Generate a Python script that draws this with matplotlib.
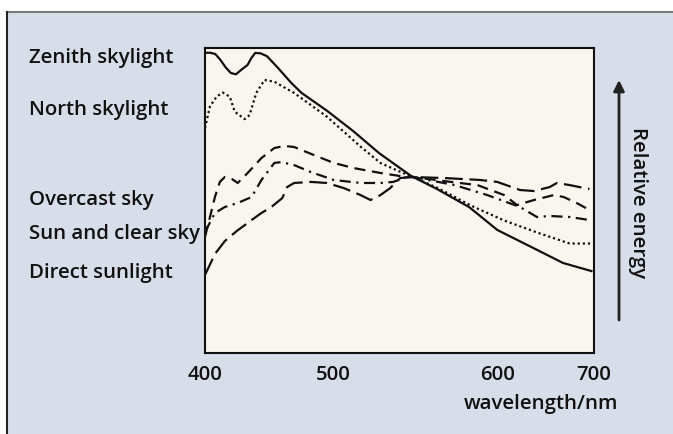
import matplotlib.pyplot as plt
from matplotlib.lines import Line2D
from matplotlib.patches import Rectangle

# spectra of daylight phases, normalised so all curves meet near 560 nm
zenith_wl = [400, 404, 408, 412, 416, 420, 424, 428, 433, 436, 439, 443, 448, 456, 467, 475,
             495, 515, 535, 560, 580, 605, 627, 658, 678, 700]
zenith_val = [170.8, 170.8, 170.1, 166.7, 162.5, 159.3, 158.5, 161.0, 163.8, 167.8, 170.7, 170.5,
              168.9, 162.7, 153.6, 147.9, 137.6, 126.2, 113.7, 100.6, 93.2, 82.9, 69.8, 58.4, 51.0, 46.4]

north_wl = [400, 403.8, 409, 413.8, 419.2, 423.1, 430.8, 434.6, 439.8, 446.2, 453.8, 469.2,
            494.6, 520.8, 536.2, 551.5, 561.5, 580.8, 606.2, 632.3, 657.7, 683.1, 699.2]
north_val = [127.9, 140.1, 145.8, 148.1, 145.8, 137.2, 133.0, 135.3, 147.9, 155.3, 154.3, 147.9,
             134.4, 117.3, 108.0, 103.0, 100.0, 93.7, 83.8, 75.2, 68.4, 62.1, 62.1]

overcast_wl = [400, 407.7, 411.5, 415.4, 420.8, 425.4, 433.1, 443.8, 453.8, 461.5, 469.2, 484.6,
               500, 515.4, 536.2, 556.2, 561.5, 590.8, 611.5, 632.3, 642.3, 655.4, 670.8, 678.5,
               688.5, 698.5]
overcast_val = [65.8, 88.6, 97.2, 100, 98.9, 96.6, 102.3, 110.8, 116.5, 117.7, 117.1, 112.5,
                108.0, 105.1, 102.3, 100, 100, 97.2, 95.4, 89.7, 84.0, 86.9, 89.7, 88.6, 85.2, 81.2]

clear_wl = [400, 407.7, 415.4, 425.4, 436.2, 443.8, 453.8, 459.2, 469.2, 482.3, 500, 520.8,
            536.2, 546.2, 556.2, 561.5, 593.8, 619.2, 644.6, 657.7, 667.7, 683.1, 698.5]
clear_val = [68.7, 79.5, 82.9, 85.2, 88.6, 98.3, 108.0, 108.5, 106.8, 102.8, 98.3, 96.6,
             96.6, 97.2, 100, 100, 95.4, 89.7, 82.9, 77.2, 77.8, 77.2, 75.5]

direct_wl = [400, 407.7, 415.4, 424.6, 436.2, 443.8, 451.5, 460, 463.8, 469.2, 482.3, 494.6,
             507.7, 520.8, 528.5, 536.2, 543.8, 551.5, 561.5, 586.2, 613.8, 626.9, 644.6, 655.4,
             667.7, 673.1, 683.1, 694.6, 698.5]
direct_val = [44.2, 56.1, 63.5, 69.2, 75.5, 79.5, 82.9, 88.0, 94.3, 96.6, 97.2, 96.6,
              93.7, 89.7, 86.9, 89.7, 93.7, 99.4, 100, 99.4, 98.3, 97.2, 92.6, 92.0,
              94.3, 96.6, 95.4, 93.7, 93.2]

curve_labels = ["Zenith skylight", "North skylight", "Overcast sky", "Sun and clear sky", "Direct sunlight"]
label_y = [58, 110, 200, 234, 273]  # pixel rows of the left-hand labels

tick_pos = [400, 500, 627, 702]
tick_labels = ["400", "500", "600", "700"]

BG = "#d8dee9"
PLOT_BG = "#f8f6ef"
INK = "#111111"
W, H = 673, 434
FS = 14.7

plt.rcParams['font.family'] = ['Open Sans', 'DejaVu Sans']

fig = plt.figure(figsize=(W / 100, H / 100), dpi=100)
fig.patch.set_facecolor("white")

# panel background with frame lines on top and left
fig.add_artist(Rectangle((7 / W, 0), 1, 1 - 12 / H, transform=fig.transFigure,
                         facecolor=BG, edgecolor="none", zorder=-10))
fig.add_artist(Line2D([7 / W, 1], [1 - 12 / H, 1 - 12 / H], transform=fig.transFigure,
                      color="#7a7a7a", lw=1.5))
fig.add_artist(Line2D([7 / W, 7 / W], [0, 1 - 12 / H], transform=fig.transFigure,
                      color="#222222", lw=1.5))

ax = fig.add_axes([205 / W, 1 - 352.5 / H, 389 / W, 305 / H])
ax.set_facecolor(PLOT_BG)

ax.plot(zenith_wl, zenith_val, color=INK, lw=1.6, linestyle="-")
ax.plot(north_wl, north_val, color=INK, lw=1.6, linestyle=(0, (1, 1.3)))
ax.plot(overcast_wl, overcast_val, color=INK, lw=1.6, linestyle=(0, (5, 3)))
ax.plot(clear_wl, clear_val, color=INK, lw=1.6, linestyle=(0, (5, 2.5, 1, 2.5)))
ax.plot(direct_wl, direct_val, color=INK, lw=1.6, linestyle=(0, (8, 3)))

ax.set_xlim(400, 700)
ax.set_ylim(0, 173.8)
ax.set_yticks([])
ax.set_xticks(tick_pos)
ax.set_xticklabels(tick_labels, fontsize=FS, fontweight="semibold", color=INK)
ax.tick_params(axis="x", length=0, pad=9)
for sp in ax.spines.values():
    sp.set_linewidth(1.5)
    sp.set_color(INK)

ax.text((618 - 205) / 389, (352.5 - 404.5) / 305, "wavelength/nm", transform=ax.transAxes,
        ha="right", va="center", fontsize=FS, fontweight="semibold", color=INK)

# relative energy arrow on the right
ax.annotate("", xy=((619 - 205) / 389, (352.5 - 80) / 305),
            xytext=((619 - 205) / 389, (352.5 - 320) / 305),
            xycoords="axes fraction", textcoords="axes fraction",
            arrowprops=dict(arrowstyle="-|>", lw=2, color="#222222", mutation_scale=16,
                            shrinkA=0, shrinkB=0), annotation_clip=False)
ax.text((638 - 205) / 389, (352.5 - 203) / 305, "Relative energy", transform=ax.transAxes,
        rotation=270, ha="center", va="center", fontsize=FS, fontweight="semibold", color=INK)

for lab, py in zip(curve_labels, label_y):
    fig.text(29 / W, 1 - py / H, lab, ha="left", va="center", fontsize=FS,
             fontweight="semibold", color=INK)

fig.savefig("out.png", dpi=100)
